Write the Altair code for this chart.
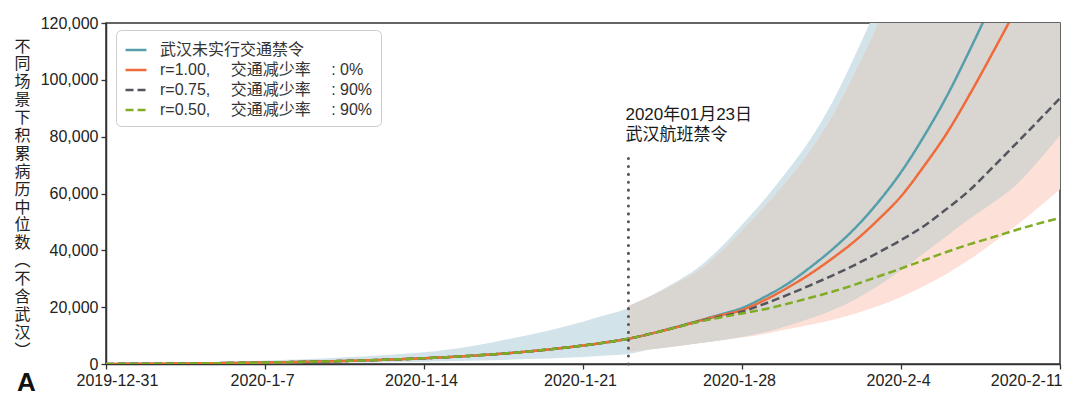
import json
import altair as alt
import pandas as pd

# ---------------- data ----------------
days = list(range(43))                      # 2019-12-31 .. 2020-02-11
ban_day = 23                                # 2020-01-23
x_tick_days = [0, 7, 14, 21, 28, 35, 42]
x_tick_labels = ["2019-12-31", "2020-1-7", "2020-1-14", "2020-1-21",
                 "2020-1-28", "2020-2-4", "2020-2-11"]
y_ticks = [0, 20000, 40000, 60000, 80000, 100000, 120000]

series_names = [
    "武汉未实行交通禁令",
    "r=1.00, \u3000交通减少率\u3000 : 0%",
    "r=0.75, \u3000交通减少率\u3000 : 90%",
    "r=0.50, \u3000交通减少率\u3000 : 90%",
]
series_colors = ["#559fab", "#ef6b3a", "#54555e", "#80ad24"]
series_dashes = [[1, 0], [1, 0], [8, 4], [8, 4]]

# common median (days 0-23)
common = [30, 60, 100, 150, 220, 300, 400, 520, 650, 800, 980, 1180, 1420, 1700,
          2020, 2400, 2850, 3380, 4000, 4720, 5550, 6500, 7600, 8900]
# days 24-42 per scenario
teal_tail = [10700, 12800, 15000, 17300, 19700, 23600, 28200, 34000, 40500, 48000,
             57000, 67500, 80000, 94000, 110000, 127000, 145000, 165000, 187000]
orange_tail = [10700, 12700, 14900, 17000, 19000, 22500, 26800, 31700, 37300, 43500,
               50800, 59000, 69500, 81000, 94500, 109000, 124000, 140000, 157000]
gray_tail = [10700, 12700, 14800, 16600, 18400, 21200, 24300, 27700, 31200, 35000,
             39200, 43600, 48500, 54500, 61000, 68900, 77000, 85200, 93500]
green_tail = [10700, 12700, 14700, 16300, 17800, 19300, 21200, 23300, 25500, 28000,
              30800, 33600, 36500, 39400, 42100, 44500, 47000, 49300, 51400]

# uncertainty bands
blue_lo_head = [0, 20, 40, 60, 90, 120, 160, 200, 250, 310, 380, 460, 560, 680, 820,
                980, 1160, 1360, 1580, 1830, 2100, 2500, 2950, 3500]          # days 0-23
blue_hi_head = [150, 250, 350, 480, 620, 780, 960, 1200, 1480, 1800, 2150, 2550, 3000,
                3500, 4100, 5000, 6200, 7600, 9200, 10900, 12800, 14900, 17200, 19600]
blue_hi_tail = [24000, 28500, 33500, 40500, 49000, 58000, 68000, 79000, 92500, 109000,
                127000, 148000, 172000, 200000, 232000, 270000, 312000, 360000, 413000]
gray_hi = [20400, 24000, 28000, 32500, 39000, 47000, 55500, 64700, 75000, 87600, 103000,
           120000, 140000, 163000, 190000, 220000, 255000, 295000, 340000, 390000]  # days 23-42
gray_lo = [4300, 5200, 6200, 7200, 8300, 9500, 11200, 13500, 16000, 19000, 22800, 27500,
           33000, 39000, 45000, 51000, 56500, 62500, 71000, 80500]
pink_lo = [4300, 5200, 6200, 7200, 8300, 9300, 10600, 12200, 13800, 15600, 17800, 20400,
           23600, 27400, 31700, 36700, 42300, 48300, 54700, 61500]

annotation_text = "2020年01月23日\n武汉航班禁令"
y_title = list("不同场景下积累病历中位数︵不含武汉︶")

# ---------------- tables ----------------
late_days = days[ban_day:]
blue_df = pd.DataFrame({"day": days,
                        "lo": blue_lo_head + gray_lo[1:],
                        "hi": blue_hi_head + blue_hi_tail})
pink_df = pd.DataFrame({"day": late_days, "lo": pink_lo, "hi": gray_hi})
gray_df = pd.DataFrame({"day": late_days, "lo": gray_lo, "hi": gray_hi})

tails = [teal_tail, orange_tail, gray_tail, green_tail]
rows = []
for name, tail in zip(series_names, tails):
    for d, v in zip(days, common + tail):
        rows.append({"day": d, "value": v, "series": name})
lines_df = pd.DataFrame(rows)

# ---------------- encodings ----------------
LATIN = "Liberation Sans, Noto Sans CJK SC"
CJK = "Noto Sans CJK SC"

x_scale = alt.Scale(domain=[0, 42], nice=False, zero=False)
y_scale = alt.Scale(domain=[0, 120000], nice=False)

x_axis = alt.Axis(
    values=x_tick_days,
    labelExpr=f"{json.dumps(x_tick_labels)}[round(datum.value / 7)]",
    labelFlush=True, labelFlushOffset=27,
    labelOffset={"condition": {"test": "datum.value == 42", "value": -25}, "value": -3},
    grid=False, tickSize=5, labelPadding=3,
    title="A", titleX=-80, titleY=26, titleAlign="center",
    titleBaseline="alphabetic", titleFontSize=26, titleFontWeight="bold",
    titleFont="Liberation Sans Narrow, Liberation Sans", titleColor="#111",
)
y_axis = alt.Axis(
    values=y_ticks, format=",", labelExpr="format(datum.value, ',')",
    grid=False, tickSize=5, labelPadding=3,
    title=y_title, titleAngle=0, titleAlign="center", titleBaseline="top",
    titleX=-84, titleY=15, titleFontSize=16, titleLineHeight=17.9,
    titleFont=CJK, titleFontWeight="normal", titleColor="#222",
)

X = alt.X("day:Q", scale=x_scale, axis=x_axis)


def band(df, color):
    return alt.Chart(df).mark_area(color=color, interpolate="monotone", clip=True).encode(
        x=X,
        y=alt.Y("lo:Q", scale=y_scale, axis=y_axis),
        y2="hi:Q",
    )


blue_band = band(blue_df, "#d3e3ea")
pink_band = band(pink_df, "#fde0d7")
gray_band = band(gray_df, "#d9d5d1")

legend = alt.Legend(
    title=None, orient="none", legendX=10, legendY=7,
    symbolType="stroke", symbolSize=440, symbolStrokeWidth=2.5,
    labelFont=LATIN, labelFontSize=16, labelColor="#333", labelLimit=400,
    labelOffset=12, rowPadding=0, padding=8,
    strokeColor="#cccccc", cornerRadius=5, fillColor="#ffffff",
)

lines = alt.Chart(lines_df).mark_line(strokeWidth=2.5, interpolate="monotone", clip=True).encode(
    x=X,
    y=alt.Y("value:Q", scale=y_scale, axis=y_axis),
    color=alt.Color("series:N", scale=alt.Scale(domain=series_names, range=series_colors),
                    sort=series_names, legend=legend),
    strokeDash=alt.StrokeDash("series:N", scale=alt.Scale(domain=series_names, range=series_dashes),
                              sort=series_names, legend=legend),
    detail="series:N",
)

ban_rule = alt.Chart(pd.DataFrame({"d": [ban_day]})).mark_rule(
    color="#555555", strokeWidth=3, strokeCap="round", strokeDash=[0.1, 7.8]
).encode(
    x=alt.X("d:Q", scale=x_scale, axis=x_axis),
    y=alt.YDatum(0, scale=y_scale, axis=y_axis),
    y2=alt.Y2Datum(73500),
)

ban_text = alt.Chart(pd.DataFrame({"d": [ban_day], "t": [annotation_text]})).mark_text(
    align="left", baseline="top", dx=-3, lineBreak="\n", lineHeight=20,
    fontSize=17, font=LATIN, color="#1a1a1a"
).encode(
    x=alt.X("d:Q", scale=x_scale, axis=x_axis),
    y=alt.YDatum(90500, scale=y_scale, axis=y_axis),
    text="t:N",
)

chart = alt.layer(blue_band, pink_band, gray_band, lines, ban_rule, ban_text).properties(
    width=954, height=341,
    autosize=alt.AutoSizeParams(type="none"),
    padding={"left": 98, "top": 15, "right": 10, "bottom": 31},
).configure_view(
    stroke="#333333", strokeWidth=1.5
).configure_axis(
    domainColor="#333333", domainWidth=1.5, tickColor="#333333", tickWidth=1.3,
    labelFont=LATIN, labelFontSize=16, labelColor="#222222",
)

chart.save("out.html", embed_options={"renderer": "svg", "actions": False})
